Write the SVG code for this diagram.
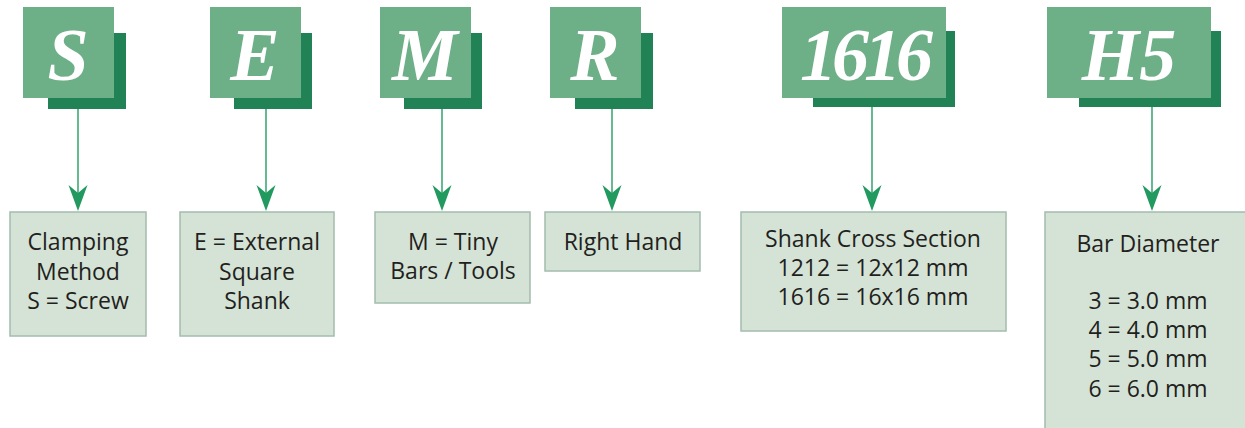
<svg xmlns="http://www.w3.org/2000/svg" width="1245" height="428" viewBox="0 0 1245 428">
<style>
.front{fill:#6daf87}
.shadow{fill:#218256}
.code{font-family:"Liberation Serif","Times New Roman",serif;font-weight:bold;font-style:italic;font-size:74px;fill:#ffffff;text-anchor:middle}
.box{fill:#d5e3d6;stroke:#a3bcae;stroke-width:1.5}
.lbl{font-family:"Open Sans","Noto Sans",sans-serif;font-size:23px;fill:#231f20;text-anchor:middle}
.ln{stroke:#3fa874;stroke-width:1.6;fill:none}
.ah{fill:#229a5f}
</style>
<g id="code-S">
<rect class="shadow" x="48" y="33" width="78" height="76"/>
<rect class="front" x="23" y="7" width="91" height="91"/>
<text class="code" x="68" y="80">S</text>
</g>
<g id="code-E">
<rect class="shadow" x="234" y="33" width="78" height="76"/>
<rect class="front" x="210" y="7" width="91" height="91"/>
<text class="code" x="255" y="80">E</text>
</g>
<g id="code-M">
<rect class="shadow" x="404" y="33" width="78" height="76"/>
<rect class="front" x="380" y="7" width="91" height="91"/>
<text class="code" x="425" y="80">M</text>
</g>
<g id="code-R">
<rect class="shadow" x="575" y="33" width="78" height="76"/>
<rect class="front" x="550" y="7" width="91" height="91"/>
<text class="code" x="595" y="80">R</text>
</g>
<g id="code-1616">
<rect class="shadow" x="813" y="31" width="142" height="76"/>
<rect class="front" x="782" y="7" width="164" height="91"/>
<text class="code" x="864" y="80" letter-spacing="-5">1616</text>
</g>
<g id="code-H5">
<rect class="shadow" x="1079" y="31" width="142" height="76"/>
<rect class="front" x="1047" y="7" width="164" height="91"/>
<text class="code" x="1129" y="80">H5</text>
</g>
<g id="connectors">
<line class="ln" x1="78" y1="109" x2="78" y2="198"/>
<path class="ah" d="M68.5,185 L78,193 L87.5,185 L78,211 Z"/>
<line class="ln" x1="266" y1="109" x2="266" y2="198"/>
<path class="ah" d="M256.5,185 L266,193 L275.5,185 L266,211 Z"/>
<line class="ln" x1="442" y1="109" x2="442" y2="198"/>
<path class="ah" d="M432.5,185 L442,193 L451.5,185 L442,211 Z"/>
<line class="ln" x1="612" y1="109" x2="612" y2="198"/>
<path class="ah" d="M602.5,185 L612,193 L621.5,185 L612,211 Z"/>
<line class="ln" x1="872" y1="107" x2="872" y2="198"/>
<path class="ah" d="M862.5,185 L872,193 L881.5,185 L872,211 Z"/>
<line class="ln" x1="1152" y1="107" x2="1152" y2="198"/>
<path class="ah" d="M1142.5,185 L1152,193 L1161.5,185 L1152,211 Z"/>
</g>
<g id="desc-S">
<rect class="box" x="10" y="212" width="136" height="124"/>
<text class="lbl" x="78" y="250">Clamping</text>
<text class="lbl" x="78" y="280">Method</text>
<text class="lbl" x="78" y="309">S = Screw</text>
</g>
<g id="desc-E">
<rect class="box" x="180" y="212" width="154" height="124"/>
<text class="lbl" x="257" y="250">E = External</text>
<text class="lbl" x="257" y="280">Square</text>
<text class="lbl" x="257" y="309">Shank</text>
</g>
<g id="desc-M">
<rect class="box" x="375" y="212" width="155" height="91"/>
<text class="lbl" x="453" y="250">M = Tiny</text>
<text class="lbl" x="453" y="279">Bars / Tools</text>
</g>
<g id="desc-R">
<rect class="box" x="545" y="212" width="155" height="59"/>
<text class="lbl" x="623" y="250">Right Hand</text>
</g>
<g id="desc-1616">
<rect class="box" x="741" y="212" width="265" height="119"/>
<text class="lbl" x="873" y="247">Shank Cross Section</text>
<text class="lbl" x="873" y="276">1212 = 12x12 mm</text>
<text class="lbl" x="873" y="305">1616 = 16x16 mm</text>
</g>
<g id="desc-H5">
<rect class="box" x="1045" y="212" width="210" height="230"/>
<text class="lbl" x="1148" y="252">Bar Diameter</text>
<text class="lbl" x="1148" y="309">3 = 3.0 mm</text>
<text class="lbl" x="1148" y="338">4 = 4.0 mm</text>
<text class="lbl" x="1148" y="367">5 = 5.0 mm</text>
<text class="lbl" x="1148" y="397">6 = 6.0 mm</text>
</g>
</svg>
